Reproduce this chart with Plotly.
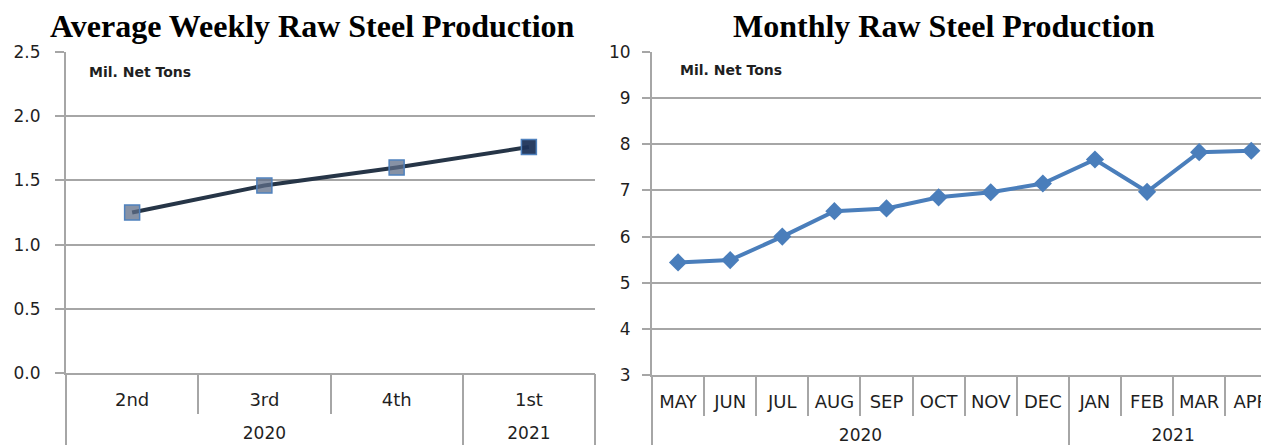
import plotly.graph_objects as go

# ---------------- data ----------------
weekly_quarters = ["2nd", "3rd", "4th", "1st"]
weekly_years = ["2020", "2020", "2020", "2021"]
weekly_values = [1.25, 1.46, 1.60, 1.76]

monthly_months = ["MAY", "JUN", "JUL", "AUG", "SEP", "OCT", "NOV", "DEC",
                  "JAN", "FEB", "MAR", "APR"]
monthly_years = ["2020"] * 8 + ["2021"] * 4
monthly_values = [5.44, 5.49, 6.00, 6.55, 6.61, 6.85, 6.96, 7.15,
                  7.67, 6.97, 7.83, 7.86]

weekly_ticks = [0.0, 0.5, 1.0, 1.5, 2.0, 2.5]
weekly_ticktext = ["0.0", "0.5", "1.0", "1.5", "2.0", "2.5"]
monthly_ticks = [3, 4, 5, 6, 7, 8, 9, 10]

title_left = "Average Weekly Raw Steel Production"
title_right = "Monthly Raw Steel Production"
unit_label = "Mil. Net Tons"


def year_groups(years):
    """Return (boundaries, centers, labels) of the year groups in index units."""
    bounds, centers, labels = [-0.5], [], []
    start = 0
    for i in range(1, len(years) + 1):
        if i == len(years) or years[i] != years[start]:
            bounds.append(i - 0.5)
            centers.append((start + i - 1) / 2)
            labels.append(years[start])
            start = i
    return bounds, centers, labels


# ---------------- layout constants ----------------
OFF = 8                      # page body margin
W, H = 1269 - OFF, 445 - OFF
GRID = "#a6a6a6"
TXT = "#1f1f1f"
XFONT = dict(family="DejaVu Sans", size=18, color=TXT)
YEARFONT = dict(family="DejaVu Sans", size=17, color=TXT)
YFONT = dict(family="DejaVu Sans", size=17, color=TXT)


def fx(px):
    return (px - OFF) / W


def fy(py):
    return 1 - (py - OFF) / H


fig = go.Figure()

fig.add_trace(go.Scatter(
    x=weekly_quarters, y=weekly_values,
    mode="lines+markers",
    line=dict(color="#263547", width=4),
    marker=dict(symbol="square", size=15,
                color=["rgba(95,110,135,0.75)"] * 3 + ["rgba(30,52,90,0.95)"],
                line=dict(color="#4f81bd", width=1.5)),
    xaxis="x", yaxis="y", showlegend=False, hoverinfo="y"))

fig.add_trace(go.Scatter(
    x=monthly_months, y=monthly_values,
    mode="lines+markers",
    line=dict(color="#4a7ebb", width=4),
    marker=dict(symbol="diamond", size=14, color="#4a7ebb"),
    xaxis="x2", yaxis="y2", showlegend=False, hoverinfo="y"))

wb, wc, wl = year_groups(weekly_years)
mb, mc, ml = year_groups(monthly_years)

# invisible helper traces so that the year axes exist
for xa, ya, xs in [("x3", "y", wb), ("x4", "y", wc), ("x5", "y2", mb), ("x6", "y2", mc)]:
    fig.add_trace(go.Scatter(x=xs, y=[None] * len(xs), xaxis=xa, yaxis=ya,
                             mode="markers", showlegend=False, hoverinfo="skip"))

xcat = dict(type="category", showline=True, linecolor=GRID, linewidth=2,
            ticks="outside", tickson="boundaries", ticklen=39, tickwidth=2,
            tickcolor=GRID, showgrid=False, zeroline=False, tickfont=XFONT,
            ticklabelstandoff=9, fixedrange=True, automargin=False)
xdiv = dict(type="linear", showline=False, showgrid=False, zeroline=False,
            ticks="outside", ticklen=85, tickwidth=2, tickcolor=GRID,
            tickmode="array", showticklabels=False, fixedrange=True, automargin=False)
xyear = dict(type="linear", showline=False, showgrid=False, zeroline=False,
             ticks="", tickmode="array", tickfont=YEARFONT, ticklabelstandoff=48,
             fixedrange=True, automargin=False)
ycommon = dict(showline=True, linecolor=GRID, linewidth=2, showgrid=True,
               gridcolor=GRID, gridwidth=2, ticks="outside", tickwidth=2,
               tickcolor=GRID, zeroline=False, tickfont=YFONT, fixedrange=True,
               automargin=False)

left_range = [-0.5, len(weekly_quarters) - 0.5]
right_range = [-0.5, 11.34]

fig.update_layout(
    width=W, height=H,
    margin=dict(l=0, r=0, t=0, b=0, autoexpand=False),
    paper_bgcolor="white", plot_bgcolor="white",
    xaxis=dict(domain=[fx(66), fx(595)], range=left_range, anchor="y", **xcat),
    xaxis3=dict(overlaying="x", anchor="y", side="bottom", range=left_range,
                tickvals=wb, **xdiv),
    xaxis4=dict(overlaying="x", anchor="y", side="bottom", range=left_range,
                tickvals=wc, ticktext=wl, **xyear),
    yaxis=dict(domain=[fy(373), fy(52)], range=[0, 2.5],
               tickvals=weekly_ticks, ticktext=weekly_ticktext, ticklen=9,
               ticklabelstandoff=11, anchor="x", **ycommon),
    xaxis2=dict(domain=[fx(652), 1.0], range=right_range, anchor="y2", **xcat),
    xaxis5=dict(overlaying="x2", anchor="y2", side="bottom", range=right_range,
                tickvals=mb, **xdiv),
    xaxis6=dict(overlaying="x2", anchor="y2", side="bottom", range=right_range,
                tickvals=mc, ticktext=ml, **xyear),
    yaxis2=dict(domain=[fy(375), fy(52)], range=[3, 10],
                tickvals=monthly_ticks, ticklen=8, ticklabelstandoff=8,
                anchor="x2", **ycommon),
    annotations=[
        dict(text="<b>" + title_left + "</b>", x=fx(312), y=fy(26),
             xref="paper", yref="paper", showarrow=False, xanchor="center", yanchor="middle",
             font=dict(family="Liberation Serif", size=32, color="#000")),
        dict(text="<b>" + title_right + "</b>", x=fx(944), y=fy(26),
             xref="paper", yref="paper", showarrow=False, xanchor="center", yanchor="middle",
             font=dict(family="Liberation Serif", size=32, color="#000")),
        dict(text="<b>" + unit_label + "</b>", x=fx(87), y=fy(72),
             xref="paper", yref="paper", showarrow=False, xanchor="left", yanchor="middle",
             font=dict(family="DejaVu Sans", size=14, color=TXT)),
        dict(text="<b>" + unit_label + "</b>", x=fx(678), y=fy(70),
             xref="paper", yref="paper", showarrow=False, xanchor="left", yanchor="middle",
             font=dict(family="DejaVu Sans", size=14, color=TXT)),
    ],
)

fig.write_html("out.html")
